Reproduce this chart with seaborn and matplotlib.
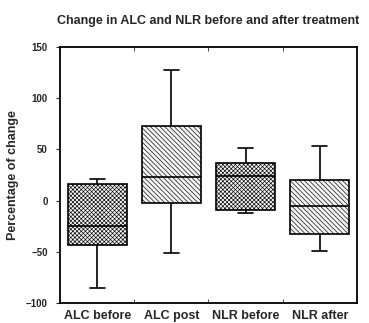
import numpy as np
import pandas as pd
import matplotlib
matplotlib.use('Agg')
import matplotlib.pyplot as plt
import seaborn as sns

# Five-number summaries: min, q1, median, q3, max
groups = ['ALC before', 'ALC post', 'NLR before', 'NLR after']
mins = [-85, -51, -12, -49]
q1s = [-43, -2, -9, -33]
medians = [-25, 23, 24, -5]
q3s = [16, 73, 37, 20]
maxs = [21, 128, 51, 53]
hatches = ['xxxxxxxx', '\\\\\\\\\\\\\\', 'xxxxxxxx', '\\\\\\\\\\\\\\']

rows = []
for g, a, b, c, d, e in zip(groups, mins, q1s, medians, q3s, maxs):
    for v in (a, b, c, d, e):
        rows.append({'group': g, 'value': v})
df = pd.DataFrame(rows)

sns.set_style('white')
plt.rcParams['font.family'] = ['Liberation Sans', 'DejaVu Sans']
plt.rcParams['hatch.color'] = '#777777'
plt.rcParams['hatch.linewidth'] = 0.45

fig = plt.figure(figsize=(3.69, 3.23), dpi=100)
ax = fig.add_axes([0.163, 0.062, 0.804, 0.792])

sns.boxplot(data=df, x='group', y='value', order=groups, whis=(0, 100),
            width=0.8, color='white', linecolor='black', linewidth=1.2,
            capwidths=0.2, ax=ax)

for patch, h in zip(ax.patches, hatches):
    patch.set_hatch(h)
    patch.set_facecolor('#f4f4f4')

ax.set_ylim(-100, 150)
ax.set_xlim(-0.5, 3.5)
ax.set_yticks([-100, -50, 0, 50, 100, 150])
ax.tick_params(axis='y', direction='out', length=3, width=0.8, labelsize=7, pad=6, left=True)
ax.tick_params(axis='x', length=0, labelsize=9, pad=5)
for lab in ax.get_yticklabels() + ax.get_xticklabels():
    lab.set_fontweight('bold')
ax.set_xticks([0.5, 1.5, 2.5], minor=True)
ax.tick_params(axis='x', which='minor', direction='in', length=3, top=True, bottom=True)

for s in ax.spines.values():
    s.set_visible(True)
    s.set_color('black')
    s.set_linewidth(1.3)

ax.set_xlabel('')
ax.set_ylabel('Percentage of change', fontsize=9, fontweight='bold', labelpad=5)
fig.text(0.565, 0.935, 'Change in ALC and NLR before and after treatment',
         ha='center', va='center', fontsize=9, fontweight='bold')

fig.savefig('out.png', dpi=100)
